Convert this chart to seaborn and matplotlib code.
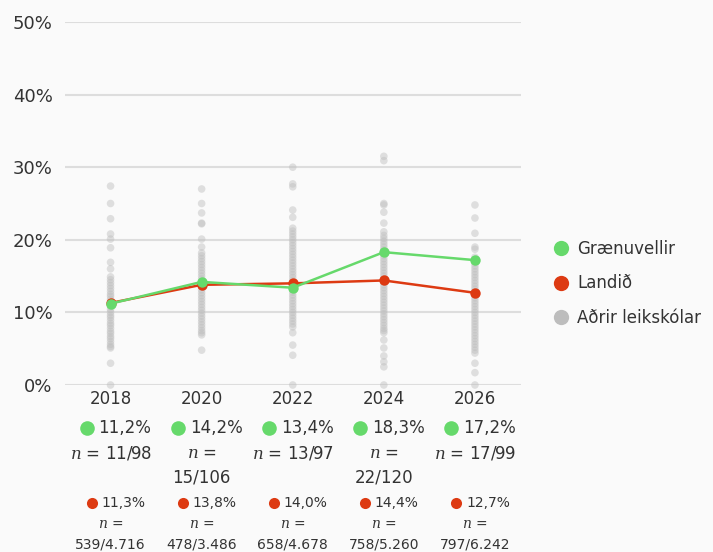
import numpy as np
import pandas as pd
import matplotlib
matplotlib.use("Agg")
import matplotlib.pyplot as plt
import seaborn as sns
from matplotlib.lines import Line2D
from matplotlib.transforms import blended_transform_factory, offset_copy

# ---------------- data ----------------
years = ["2018", "2020", "2022", "2024", "2026"]
green_vals = [11.2, 14.2, 13.4, 18.3, 17.2]
red_vals = [11.3, 13.8, 14.0, 14.4, 12.7]
green_labels = ["11,2%", "14,2%", "13,4%", "18,3%", "17,2%"]
green_n = ["11/98", "15/106", "13/97", "22/120", "17/99"]
red_labels = ["11,3%", "13,8%", "14,0%", "14,4%", "12,7%"]
red_n = ["539/4.716", "478/3.486", "658/4.678", "758/5.260", "797/6.242"]
yticks = [0, 10, 20, 30, 40, 50]
ytick_labels = ["0%", "10%", "20%", "30%", "40%", "50%"]
series_names = ["Grænuvellir", "Landið", "Aðrir leikskólar"]

others_2018 = [27.4, 25.0, 22.9, 20.8, 20.1, 18.9, 16.9, 16.0, 14.9, 14.5, 14.1, 13.7,
               13.3, 12.9, 12.5, 12.2, 11.8, 11.5, 11.1, 10.8, 10.4, 10.0, 9.6, 9.3,
               8.9, 8.5, 8.2, 7.8, 7.4, 7.1, 6.7, 6.4, 6.0, 5.6, 5.3, 5.1, 3.0, 0.0]
others_2020 = [27.0, 25.0, 23.7, 22.3, 22.2, 20.1, 19.0, 18.2, 17.8, 17.4, 17.0, 16.6,
               16.2, 15.8, 15.4, 15.0, 14.6, 14.3, 13.9, 13.5, 13.1, 12.7, 12.3, 11.9,
               11.5, 11.1, 10.7, 10.3, 9.9, 9.5, 9.1, 8.7, 8.3, 7.9, 7.5, 7.2, 6.9, 4.8]
others_2022 = [30.0, 27.7, 27.3, 24.1, 23.1, 21.6, 21.2, 20.8, 20.4, 20.0, 19.6, 19.2,
               18.8, 18.4, 18.0, 17.6, 17.2, 16.8, 16.4, 16.0, 15.6, 15.2, 14.8, 14.4,
               14.0, 13.6, 13.2, 12.8, 12.4, 12.0, 11.6, 11.2, 10.8, 10.4, 10.0, 9.6,
               9.2, 8.8, 8.4, 8.0, 7.2, 5.5, 4.1, 0.0]
others_2024 = [31.5, 30.9, 25.0, 24.8, 23.8, 22.3, 21.1, 20.6, 20.2, 19.8, 19.4, 19.0,
               18.6, 18.2, 17.8, 17.4, 17.0, 16.6, 16.2, 15.8, 15.4, 15.0, 14.6, 14.2,
               13.8, 13.4, 13.0, 12.6, 12.2, 11.8, 11.4, 11.0, 10.6, 10.2, 9.8, 9.4,
               9.0, 8.6, 8.2, 7.8, 7.5, 7.2, 6.2, 5.1, 4.0, 3.2, 2.5, 0.0]
others_2026 = [24.8, 23.0, 20.9, 19.0, 18.7, 17.6, 17.2, 16.8, 16.4, 16.0, 15.6, 15.2,
               14.8, 14.4, 14.0, 13.6, 13.2, 12.8, 12.4, 12.0, 11.6, 11.2, 10.8, 10.4,
               10.0, 9.6, 9.2, 8.8, 8.4, 8.0, 7.6, 7.2, 6.8, 6.4, 6.0, 5.6, 5.2, 4.8,
               4.4, 3.0, 1.7, 0.0]
others = [others_2018, others_2020, others_2022, others_2024, others_2026]

# ---------------- style ----------------
GREEN = "#66d96b"
RED = "#dd3a12"
GREY = "#bdbdbd"
BG = "#fafafa"
TXT = "#333333"

sns.set_theme(style="white")
plt.rcParams["font.family"] = ["DejaVu Sans"]
plt.rcParams["mathtext.fontset"] = "dejavuserif"

fig = plt.figure(figsize=(7.13, 5.52), dpi=100, facecolor=BG)
ax = fig.add_axes([65 / 713, 167 / 552, 455.5 / 713, 363 / 552])
ax.set_facecolor(BG)

pos = list(range(len(years)))
df_others = pd.DataFrame({
    "x": [p for p, vals in zip(pos, others) for _ in vals],
    "y": [v for vals in others for v in vals],
})
df_lines = pd.DataFrame({"x": pos * 2, "y": red_vals + green_vals,
                         "s": ["Landið"] * 5 + ["Grænuvellir"] * 5})

sns.scatterplot(data=df_others, x="x", y="y", ax=ax, color=GREY, s=30, alpha=0.45,
                edgecolor="none", legend=False, zorder=2, clip_on=False)
sns.lineplot(data=df_lines, x="x", y="y", hue="s", hue_order=["Landið", "Grænuvellir"],
             palette={"Landið": RED, "Grænuvellir": GREEN}, marker="o", markersize=7.5,
             markeredgewidth=0, linewidth=1.8, ax=ax, legend=False, zorder=3)

ax.set_xlim(-0.5, len(years) - 0.5)
ax.set_ylim(0, 50)
ax.set_yticks(yticks)
ax.set_yticklabels(ytick_labels, fontsize=13, color=TXT)
ax.set_xticks(pos)
ax.set_xticklabels([])
ax.tick_params(axis="y", length=0, pad=9)
ax.tick_params(axis="x", length=0)
ax.grid(axis="y", color="#dddddd", linewidth=1.5)
ax.set_axisbelow(True)
for sp in ax.spines.values():
    sp.set_visible(False)
ax.set_xlabel("")
ax.set_ylabel("")

trans = blended_transform_factory(ax.transData, ax.transAxes)


def txt(i, dx, dy, s, size, ha="center"):
    ax.annotate(s, xy=(pos[i], 0), xycoords=trans, xytext=(dx, dy),
                textcoords="offset pixels", ha=ha, va="center", fontsize=size,
                color=TXT, annotation_clip=False)


def dot(i, dx, dy, color, ms):
    t = offset_copy(trans, fig=fig, x=dx, y=dy, units="dots")
    ax.plot([pos[i]], [0], "o", color=color, ms=ms, mew=0, transform=t, clip_on=False)


for i, yr in enumerate(years):
    txt(i, 0, -14, yr, 12)
    dot(i, -24, -43, GREEN, 10.5)
    txt(i, -12, -43, green_labels[i], 12, ha="left")
    nlab = r"$n$ = " + green_n[i]
    if len(green_n[i]) > 5:
        txt(i, 0, -68, r"$n$ =", 12)
        txt(i, 0, -93, green_n[i], 12)
    else:
        txt(i, 0, -68, nlab, 12)
    dot(i, -19, -118, RED, 8)
    txt(i, -9, -118, red_labels[i], 10, ha="left")
    txt(i, 0, -139, r"$n$ =", 10)
    txt(i, 0, -160, red_n[i], 10)

handles = [Line2D([], [], marker="o", ls="none", color=c, ms=11, mew=0)
           for c in [GREEN, RED, GREY]]
ax.legend(handles, series_names, loc="center left", bbox_to_anchor=(1.07, 0.28),
          frameon=False, fontsize=12, handlelength=1.0, handletextpad=0.5,
          labelspacing=1.0, borderpad=0, borderaxespad=0, labelcolor=TXT)

fig.savefig("out.png", dpi=100, facecolor=BG)
